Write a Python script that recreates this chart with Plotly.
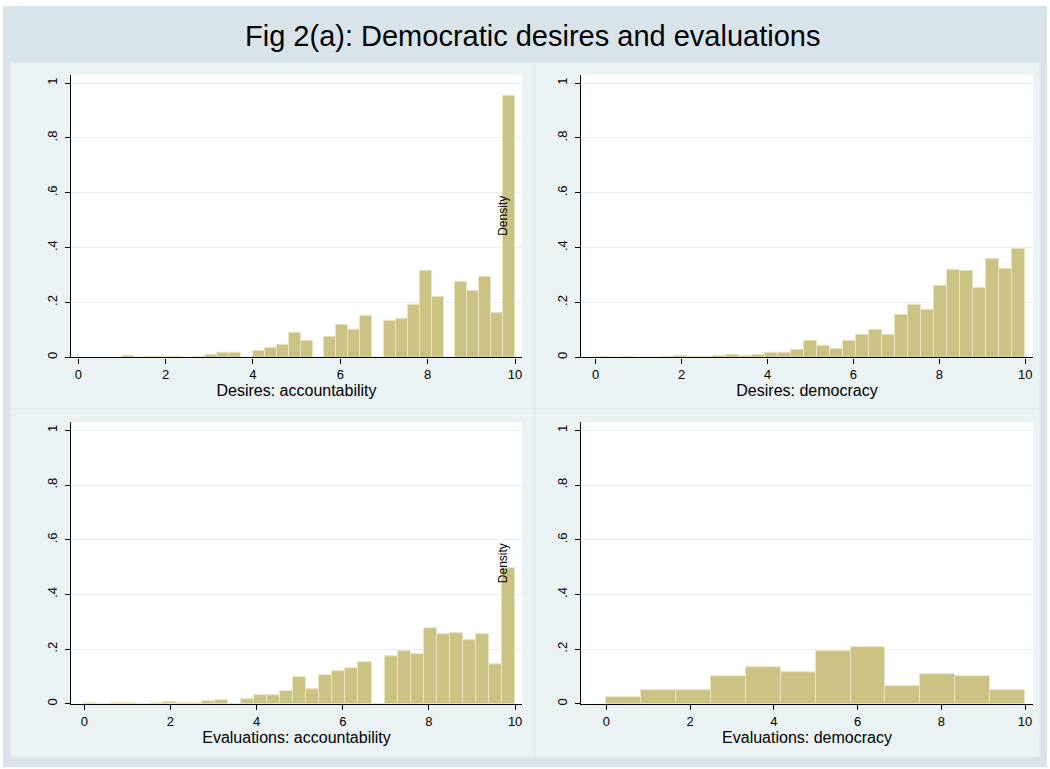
import plotly.graph_objects as go

# ---- histogram data (density per bin) ----
# Desires: accountability  (33 bins from 1 to 10)
desires_acc_start = 1.0
desires_acc_width = 9.0 / 33
desires_acc = [0.004, 0.0, 0.003, 0.003, 0.003, 0.0, 0.003, 0.008, 0.015, 0.015,
               0.0, 0.024, 0.036, 0.046, 0.088, 0.061, 0.0, 0.076, 0.120, 0.102,
               0.153, 0.0, 0.133, 0.141, 0.192, 0.314, 0.221, 0.0, 0.276, 0.244,
               0.295, 0.161, 0.954]

# Desires: democracy  (33 bins from 0 to 10)
desires_dem_start = 0.0
desires_dem_width = 10.0 / 33
desires_dem = [0.003, 0.0, 0.003, 0.0, 0.0, 0.003, 0.005, 0.003, 0.003, 0.005,
               0.010, 0.004, 0.011, 0.017, 0.015, 0.027, 0.059, 0.041, 0.030, 0.059,
               0.081, 0.102, 0.084, 0.156, 0.192, 0.175, 0.262, 0.318, 0.315, 0.252,
               0.360, 0.322, 0.394]

# Evaluations: accountability  (33 bins from 0 to 10)
eval_acc_start = 0.0
eval_acc_width = 10.0 / 33
eval_acc = [0.002, 0.0, 0.002, 0.002, 0.0, 0.002, 0.005, 0.002, 0.002, 0.009,
            0.013, 0.0, 0.018, 0.032, 0.032, 0.047, 0.096, 0.053, 0.105, 0.119,
            0.131, 0.154, 0.0, 0.173, 0.193, 0.182, 0.278, 0.253, 0.258, 0.232,
            0.253, 0.144, 0.497]

# Evaluations: democracy  (12 bins from 0 to 10)
eval_dem_start = 0.0
eval_dem_width = 10.0 / 12
eval_dem = [0.024, 0.050, 0.050, 0.101, 0.133, 0.116, 0.192, 0.208, 0.065, 0.108,
            0.101, 0.050]

x_ticks = [0, 2, 4, 6, 8, 10]
y_ticks = [0, 0.2, 0.4, 0.6, 0.8, 1.0]
y_tick_text = ["0", ".2", ".4", ".6", ".8", "1"]

W, H = 1050, 769
FONT = "Arial, Liberation Sans, Helvetica, sans-serif"
BAR_FILL = "#cbc383"
BAR_EDGE = "#e8e4c2"
OUTER_BG = "#d8e4e9"
INNER_BG = "#eaf2f3"
GRID = "#e6eef0"


def fx(p):
    return p / W


def fy(p):
    return 1 - p / H


# panel layout: plot area in pixels and axis ranges
panels = [
    dict(title="Desires: accountability", start=desires_acc_start, width=desires_acc_width,
         heights=desires_acc, box=(71, 75, 522, 358.3), xr=(-0.167, 10.16), density=(9.72, 0.515)),
    dict(title="Desires: democracy", start=desires_dem_start, width=desires_dem_width,
         heights=desires_dem, box=(581, 75, 1033, 358.3), xr=(-0.342, 10.18), density=None),
    dict(title="Evaluations: accountability", start=eval_acc_start, width=eval_acc_width,
         heights=eval_acc, box=(71, 423.3, 522, 705.7), xr=(-0.309, 10.16), density=(9.71, 0.513)),
    dict(title="Evaluations: democracy", start=eval_dem_start, width=eval_dem_width,
         heights=eval_dem, box=(581, 423.3, 1033, 705.7), xr=(-0.604, 10.19), density=None),
]

fig = go.Figure()
shapes = [
    dict(type="rect", xref="paper", yref="paper", x0=fx(3), x1=fx(1047), y0=fy(769), y1=fy(6),
         fillcolor=OUTER_BG, line=dict(width=0), layer="below"),
]
# sub-graph cells
for (x0, y0, x1, y1) in [(11, 63, 534, 410), (535, 63, 1040, 410),
                         (11, 410, 534, 759), (535, 410, 1040, 759)]:
    shapes.append(dict(type="rect", xref="paper", yref="paper", x0=fx(x0), x1=fx(x1),
                       y0=fy(y1), y1=fy(y0), fillcolor=INNER_BG,
                       line=dict(color="#e3ebee", width=1), layer="below"))

annotations = []
for i, p in enumerate(panels, start=1):
    xs = "" if i == 1 else str(i)
    left, top, right, bottom = p["box"]
    centers = [p["start"] + p["width"] * (k + 0.5) for k in range(len(p["heights"]))]
    fig.add_trace(go.Bar(
        x=centers, y=p["heights"], width=[p["width"]] * len(centers),
        marker=dict(color=BAR_FILL, line=dict(color=BAR_EDGE, width=1)),
        xaxis="x" + xs, yaxis="y" + xs, showlegend=False, hoverinfo="x+y",
    ))
    shapes.append(dict(type="rect", xref="paper", yref="paper", x0=fx(left), x1=fx(right),
                       y0=fy(bottom), y1=fy(top), fillcolor="white", line=dict(width=0),
                       layer="below"))
    fig.layout["xaxis" + xs] = dict(
        domain=[fx(left), fx(right)], anchor="y" + xs, range=list(p["xr"]),
        tickvals=x_ticks, ticks="outside", ticklen=5, tickwidth=1, tickcolor="black",
        showline=True, linecolor="black", linewidth=1.3, showgrid=False, zeroline=False,
        tickfont=dict(family=FONT, size=13, color="black"),
        title=dict(text=p["title"], font=dict(family=FONT, size=16, color="black"), standoff=2),
    )
    fig.layout["yaxis" + xs] = dict(
        domain=[fy(bottom), fy(top)], anchor="x" + xs, range=[0, 1.03],
        tickvals=y_ticks, ticktext=y_tick_text, tickangle=-90, ticklabelstandoff=3,
        ticks="outside", ticklen=5, tickwidth=1, tickcolor="black",
        showline=True, linecolor="black", linewidth=1.3, showgrid=True,
        gridcolor=GRID, gridwidth=1, zeroline=False,
        tickfont=dict(family=FONT, size=13, color="black"),
    )
    if p["density"]:
        annotations.append(dict(text="Density", x=p["density"][0], y=p["density"][1],
                                xref="x" + xs, yref="y" + xs, textangle=-90, showarrow=False,
                                font=dict(family=FONT, size=12, color="black")))

annotations.append(dict(text="Fig 2(a): Democratic desires and evaluations", x=0.507, y=fy(36),
                        xref="paper", yref="paper", showarrow=False, xanchor="center",
                        yanchor="middle", font=dict(family=FONT, size=29, color="black")))

fig.update_layout(
    width=W, height=H, margin=dict(l=0, r=0, t=0, b=0),
    paper_bgcolor="white", plot_bgcolor="white",
    shapes=shapes, annotations=annotations, bargap=0,
    font=dict(family=FONT, color="black"),
)

fig.write_html("out.html")
